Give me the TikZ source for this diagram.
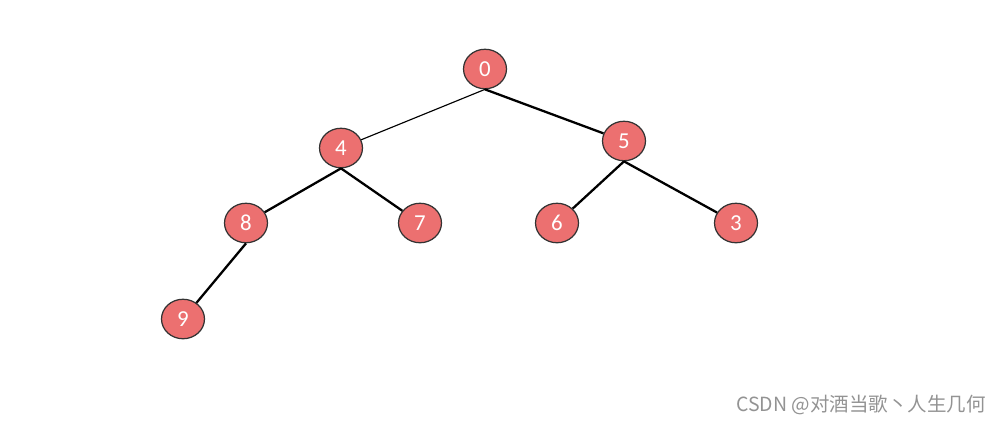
\documentclass[tikz,border=0pt]{standalone}
\usepackage{fontspec}
\setmainfont{Carlito}
\newfontfamily\cjkfont{Noto Sans CJK SC}
\usetikzlibrary{shapes.geometric}
\definecolor{nodered}{HTML}{EC7070}
\definecolor{rimgray}{HTML}{333333}
\tikzset {
    x=0.02cm,
    y=-0.02cm,
    treenode/.style={ellipse, draw=rimgray, line width=0.7pt, fill=nodered,
        minimum width=0.86cm, minimum height=0.79cm, inner sep=0pt,
        text=white, font=\fontsize{13pt}{15pt}\selectfont},
    thinedge/.style={line width=0.65pt},
    thickedge/.style={line width=1.3pt}
}

\begin{document}
\begin{tikzpicture}
    \useasboundingbox (0,0) rectangle (1006,426);

    \node[treenode] (n0) at (485,69) {0};
    \node[treenode] (n4) at (341,148) {4};
    \node[treenode] (n5) at (624,141) {5};
    \node[treenode] (n8) at (246,223) {8};
    \node[treenode] (n7) at (420,223) {7};
    \node[treenode] (n6) at (557,223) {6};
    \node[treenode] (n3) at (736,223) {3};
    \node[treenode] (n9) at (183,319) {9};

    \draw[thinedge] (n0.south) -- (n4);
    \draw[thickedge] (n0.south) -- (n5);
    \draw[thickedge] (n4.south) -- (n8);
    \draw[thickedge] (n4.south) -- (n7);
    \draw[thickedge] (n5.south) -- (n6);
    \draw[thickedge] (n5.south) -- (n3);
    \draw[thickedge] (n8.south) -- (n9);

    % watermark
    \node[anchor=east, text=gray!85, font=\cjkfont\fontsize{11.1pt}{13pt}\selectfont]
        (mark) at (992,405) {CSDN @对酒当歌丶人生几何};
\end{tikzpicture}
\end{document}
